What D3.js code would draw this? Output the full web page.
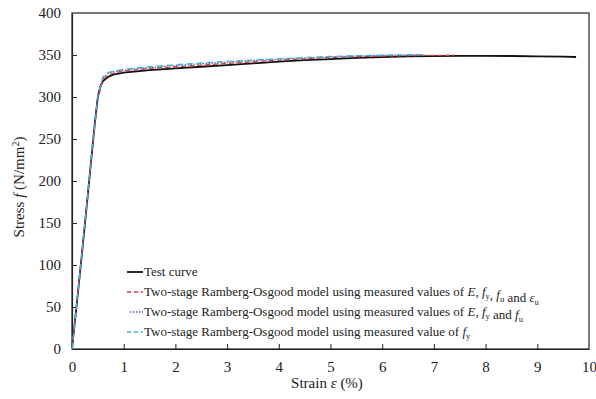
<!DOCTYPE html>
<html>
<head>
<style>
body { margin: 0; background: #fff; }
svg text { font-family: "Liberation Serif", "Times New Roman", serif; }
</style>
</head>
<body>
<div id="chart"></div>
<script src="https://d3js.org/d3.v7.min.js"></script>
<script>
const width = 596, height = 399;

// Test curve
const testStrain = [0, 0.1, 0.2, 0.3, 0.4, 0.45, 0.5, 0.55, 0.6, 0.7, 0.8, 1.0, 1.5, 2, 2.5, 3, 3.5, 4, 4.5, 5, 5.5, 6, 6.5, 7, 7.5, 8, 8.5, 9, 9.5, 9.75];
const testStress = [0, 58, 118, 180, 243, 274, 300, 313, 319, 324, 326.5, 329, 332, 334, 336, 338, 340, 342, 344, 345, 346.5, 347.5, 348.3, 348.7, 349, 349, 348.8, 348.4, 348, 347.6];

// Model using E, fy, fu and eu
const redStrain = [0, 0.1, 0.2, 0.3, 0.4, 0.5, 0.6, 0.7, 0.8, 1, 1.5, 2, 2.5, 3, 3.5, 4, 4.5, 5, 5.5, 6, 6.5, 7, 7.4];
const redStress = [0, 58, 118, 180, 242, 298, 321, 326, 328.5, 331, 334, 336, 338, 340, 342, 344, 345.5, 347, 348, 348.8, 349.3, 349.6, 349.7];

// Model using E, fy and fu
const blueStrain = [0, 0.1, 0.2, 0.3, 0.4, 0.5, 0.6, 0.7, 0.8, 1, 1.5, 2, 2.5, 3, 3.5, 4, 4.5, 5, 5.5, 6, 6.5, 6.8];
const blueStress = [0, 59, 119, 181, 244, 300, 323, 328, 330, 332, 335, 337.5, 339.5, 341.5, 343.5, 345, 346.5, 347.8, 348.8, 349.5, 350, 350.2];

// Model using fy only
const cyanStrain = [0, 0.1, 0.2, 0.3, 0.4, 0.5, 0.6, 0.7, 0.8, 1, 1.5, 2, 2.5, 3, 3.5, 4, 4.5, 5, 5.5, 6, 6.5, 6.8];
const cyanStress = [0, 59, 120, 182, 245, 301, 324, 329, 331, 333, 336, 338.5, 340.5, 342.5, 344, 345.5, 347, 348.2, 349.2, 349.8, 350.3, 350.5];

const xTicks = [0, 1, 2, 3, 4, 5, 6, 7, 8, 9, 10];
const yTicks = [0, 50, 100, 150, 200, 250, 300, 350, 400];

const series = [
  { name: "test", x: testStrain, y: testStress, color: "#111", width: 1.8, dash: null, legDash: null },
  { name: "red", x: redStrain, y: redStress, color: "#e0383c", width: 1.3, dash: "5,3", legDash: "4,3" },
  { name: "blue", x: blueStrain, y: blueStress, color: "#5a5fa8", width: 1.3, dash: "1.5,1.5", legDash: "1.5,1.5" },
  { name: "cyan", x: cyanStrain, y: cyanStress, color: "#38b4d8", width: 1.3, dash: "6,4", legDash: "4,3" }
];

const margin = { left: 72, top: 13, right: 7, bottom: 50 };
const x = d3.scaleLinear().domain([0, 10]).range([margin.left, width - margin.right]);
const y = d3.scaleLinear().domain([0, 400]).range([height - margin.bottom, margin.top]);

const svg = d3.select("#chart").append("svg")
  .attr("width", width).attr("height", height);

svg.append("rect").attr("width", width).attr("height", height).attr("fill", "#fff");

// Frame
svg.append("rect")
  .attr("x", x(0)).attr("y", y(400))
  .attr("width", x(10) - x(0)).attr("height", y(0) - y(400))
  .attr("fill", "none").attr("stroke", "#222").attr("stroke-width", 1.2);

// Axes with inward ticks
const xAxis = svg.append("g")
  .attr("transform", `translate(0,${y(0)})`)
  .call(d3.axisBottom(x).tickValues(xTicks).tickSizeInner(-5).tickSizeOuter(0).tickPadding(12));
const yAxis = svg.append("g")
  .attr("transform", `translate(${x(0)},0)`)
  .call(d3.axisLeft(y).tickValues(yTicks).tickSizeInner(-5).tickSizeOuter(0).tickPadding(11));

[xAxis, yAxis].forEach(a => {
  a.attr("font-family", null);
  a.select(".domain").attr("stroke", "#222").attr("stroke-width", 1.2);
  a.selectAll(".tick line").attr("stroke", "#222");
  a.selectAll(".tick text").attr("font-size", 15).attr("fill", "#222");
});
xAxis.selectAll(".tick").filter(d => d === 0 || d === 10).select("line").remove();
yAxis.selectAll(".tick").filter(d => d === 0 || d === 400).select("line").remove();

// Curves
const line = d3.line().x(d => x(d[0])).y(d => y(d[1]));
series.forEach(s => {
  svg.append("path")
    .datum(s.x.map((v, i) => [v, s.y[i]]))
    .attr("d", line)
    .attr("fill", "none")
    .attr("stroke", s.color)
    .attr("stroke-width", s.width)
    .attr("stroke-dasharray", s.dash);
});

// Axis titles
svg.append("text")
  .attr("x", 327).attr("y", 388)
  .attr("text-anchor", "middle").attr("font-size", 15).attr("fill", "#222")
  .html("Strain <tspan font-style='italic'>ε</tspan> (%)");

svg.append("text")
  .attr("transform", "translate(24,187) rotate(-90)")
  .attr("text-anchor", "middle").attr("font-size", 15).attr("fill", "#222")
  .html("Stress <tspan font-style='italic'>f</tspan> (N/mm<tspan baseline-shift='super' font-size='10'>2</tspan>)");

// Legend
const sub = t => `<tspan font-size='8.5' dy='3'>${t}</tspan><tspan dy='-3'></tspan>`;
const it = t => `<tspan font-style='italic'>${t}</tspan>`;
const legendItems = [
  { s: series[0], html: "Test curve" },
  { s: series[1], html: `Two-stage Ramberg-Osgood model using measured values of ${it("E")}, ${it("f")}${sub("y")}, ${it("f")}${sub("u")} and ${it("ε")}${sub("u")}` },
  { s: series[2], html: `Two-stage Ramberg-Osgood model using measured values of ${it("E")}, ${it("f")}${sub("y")} and ${it("f")}${sub("u")}` },
  { s: series[3], html: `Two-stage Ramberg-Osgood model using measured value of ${it("f")}${sub("y")}` }
];
const legend = svg.append("g").attr("transform", "translate(127,272)");
legendItems.forEach((d, i) => {
  const gy = i * 20;
  legend.append("line")
    .attr("x1", i === 2 ? 3 : 0).attr("x2", 16).attr("y1", gy).attr("y2", gy)
    .attr("stroke", d.s.color).attr("stroke-width", d.s.width)
    .attr("stroke-dasharray", d.s.legDash);
  legend.append("text")
    .attr("x", 17).attr("y", gy + 4)
    .attr("font-size", 13).attr("fill", "#222")
    .html(d.html);
});
</script>
</body>
</html>
